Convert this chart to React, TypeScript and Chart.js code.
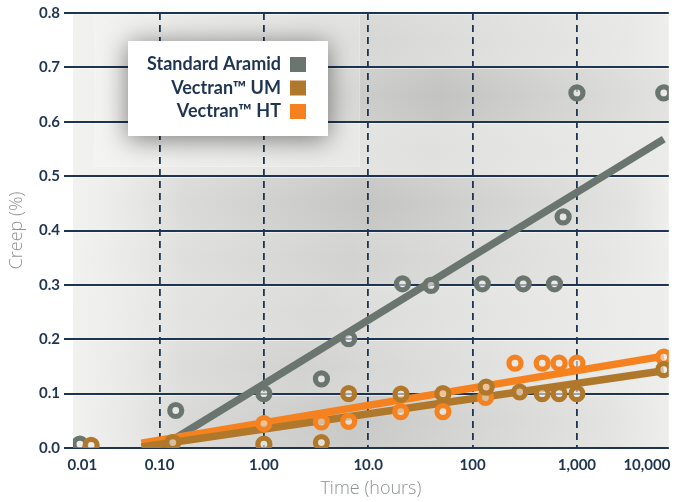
import { useEffect, useRef } from 'react';
import { Chart, registerables } from 'chart.js';

Chart.register(...registerables);

// Time axis (hours, log scale): tick positions and their printed labels
const tickValues = [0.01824, 0.1, 1, 10, 100, 1000, 4690];
const tickLabels = ['0.01', '0.10', '1.00', '10.0', '100', '1,000', '10,000'];
const xMin = 0.014812;
const xMax = 7600;

// Creep axis (%)
const yMin = 0;
const yMax = 0.8;
const yStep = 0.1;

const seriesNames = ['Standard Aramid', 'Vectran™ UM', 'Vectran™ HT'];
const seriesColors = ['#6b7570', '#b0782b', '#f5821f'];

// Measured creep, Standard Aramid
const aramidHours = [0.01725, 0.143, 1.0, 3.56, 6.5, 21.3, 40, 124, 306, 610, 738, 1000, 6800];
const aramidCreep = [0.007, 0.069, 0.1, 0.127, 0.201, 0.302, 0.299, 0.302, 0.302, 0.302, 0.425, 0.653, 0.653];

// Measured creep, Vectran UM
const umHours = [0.0221, 0.134, 1.0, 3.56, 6.5, 20.6, 52, 135, 283, 465, 675, 1000, 6800];
const umCreep = [0.005, 0.01, 0.007, 0.01, 0.1, 0.099, 0.1, 0.112, 0.103, 0.1, 0.1, 0.1, 0.144];

// Measured creep, Vectran HT
const htHours = [1.0, 3.56, 6.5, 20.5, 52, 133, 255, 465, 675, 1000, 6800];
const htCreep = [0.045, 0.048, 0.049, 0.067, 0.067, 0.093, 0.156, 0.156, 0.156, 0.156, 0.167];

// Log-linear trend lines (end points)
const aramidTrendHours = [0.1, 6800];
const aramidTrendCreep = [0.0, 0.568];
const umTrendHours = [0.067, 6800];
const umTrendCreep = [0.002, 0.142];
const htTrendHours = [0.067, 6800];
const htTrendCreep = [0.009, 0.169];

const NAVY = '#1d3452';
const TITLE_GRAY = '#8e9392';

const toPoints = (xs: number[], ys: number[]) => xs.map((x, i) => ({ x, y: ys[i] }));

const backgroundPlugin = {
  id: 'panelBackground',
  beforeDraw(chart: any) {
    const { ctx, chartArea } = chart;
    const { left, right, top, bottom } = chartArea;
    const w = right - left;
    const yScale = chart.scales.y;
    ctx.save();
    ctx.fillStyle = '#ffffff';
    ctx.fillRect(0, 0, chart.width, chart.height);

    // shading of each 0.1 band: [centre x, darkness]
    const bandShade: [number, number][] = [
      [350, 0.8],
      [300, 0.6],
      [320, 0.42],
      [350, 0.6],
      [370, 0.85],
      [430, 0.3],
      [440, 0.9],
      [370, 0.5],
    ];
    const light = [239, 239, 237];
    const dark = [190, 191, 188];
    const mix = (t: number) =>
      `rgb(${light.map((c, k) => Math.round(c + (dark[k] - c) * t)).join(',')})`;
    const clamp = (v: number) => Math.min(1, Math.max(0, v));
    bandShade.forEach(([cx, d], i) => {
      const yb = yScale.getPixelForValue(i * yStep);
      const yt = yScale.getPixelForValue((i + 1) * yStep);
      const g = ctx.createLinearGradient(left, 0, right, 0);
      const c = (cx - left) / w;
      g.addColorStop(0, mix(0.05));
      g.addColorStop(clamp(c - 260 / w), mix(d * 0.3));
      g.addColorStop(clamp(c), mix(d));
      g.addColorStop(clamp(c + 260 / w), mix(d * 0.3));
      g.addColorStop(1, mix(0.03));
      ctx.fillStyle = g;
      ctx.fillRect(left, yt, w, yb - yt);
      const v = ctx.createLinearGradient(0, yt, 0, yb);
      v.addColorStop(0, 'rgba(240,240,238,0.12)');
      v.addColorStop(0.5, 'rgba(240,240,238,0)');
      v.addColorStop(1, 'rgba(240,240,238,0.08)');
      ctx.fillStyle = v;
      ctx.fillRect(left, yt, w, yb - yt);
    });

    // light strip along the left edge
    const lg = ctx.createLinearGradient(left, 0, left + 110, 0);
    lg.addColorStop(0, 'rgba(242,242,240,0.9)');
    lg.addColorStop(1, 'rgba(242,242,240,0)');
    ctx.fillStyle = lg;
    ctx.fillRect(left, top, 110, bottom - top);

    // soft glow behind the legend
    ctx.fillStyle = 'rgba(255,255,255,0.22)';
    ctx.fillRect(94, top, 266, 154);
    ctx.strokeStyle = 'rgba(255,255,255,0.2)';
    ctx.lineWidth = 1;
    ctx.strokeRect(94.5, top + 0.5, 265, 153);

    // thin highlight under each gridline
    ctx.strokeStyle = 'rgba(255,255,255,0.5)';
    ctx.lineWidth = 1;
    for (let v = yMin; v <= yMax + 1e-9; v += yStep) {
      const y = Math.round(yScale.getPixelForValue(v)) + 1.5;
      if (y > bottom) continue;
      ctx.beginPath();
      ctx.moveTo(left, y);
      ctx.lineTo(right, y);
      ctx.stroke();
    }
    ctx.restore();
  },
};

const legendPlugin = {
  id: 'boxLegend',
  afterDraw(chart: any) {
    const { ctx } = chart;
    ctx.save();
    ctx.shadowColor = 'rgba(0,0,0,0.5)';
    ctx.shadowBlur = 24;
    ctx.shadowOffsetY = 3;
    ctx.fillStyle = '#ffffff';
    ctx.fillRect(128, 41, 200, 95);
    ctx.shadowColor = 'transparent';
    ctx.shadowBlur = 0;
    ctx.font = 'bold 18px Lato, sans-serif';
    ctx.textAlign = 'right';
    ctx.textBaseline = 'middle';
    seriesNames.forEach((name, i) => {
      const cy = 64.5 + i * 23.5;
      ctx.fillStyle = NAVY;
      ctx.fillText(name, 281, cy);
      ctx.fillStyle = seriesColors[i];
      ctx.fillRect(290, cy - 7.5, 16, 15);
    });
    ctx.restore();
  },
};

export default function App() {
  const canvasRef = useRef<HTMLCanvasElement | null>(null);

  useEffect(() => {
    const canvas = canvasRef.current;
    if (!canvas) return;

    const ring = (color: string, order: number, label: string, xs: number[], ys: number[]) => ({
      label,
      data: toPoints(xs, ys),
      showLine: false,
      pointStyle: 'circle',
      pointRadius: 6,
      pointBorderWidth: 5.2,
      pointBorderColor: color,
      pointBackgroundColor: 'rgba(236,236,234,0.6)',
      borderColor: color,
      order,
    });
    const trend = (color: string, order: number, label: string, xs: number[], ys: number[]) => ({
      label,
      data: toPoints(xs, ys),
      showLine: true,
      borderColor: color,
      borderWidth: 7.5,
      borderCapStyle: 'butt',
      pointRadius: 0,
      fill: false,
      order,
    });

    const chart = new Chart(canvas, {
      type: 'scatter',
      data: {
        datasets: [
          trend(seriesColors[0], 6, seriesNames[0] + ' trend', aramidTrendHours, aramidTrendCreep),
          trend(seriesColors[2], 5, seriesNames[2] + ' trend', htTrendHours, htTrendCreep),
          trend(seriesColors[1], 4, seriesNames[1] + ' trend', umTrendHours, umTrendCreep),
          ring(seriesColors[0], 3, seriesNames[0], aramidHours, aramidCreep),
          ring(seriesColors[2], 2, seriesNames[2], htHours, htCreep),
          ring(seriesColors[1], 1, seriesNames[1], umHours, umCreep),
        ] as any,
      },
      options: {
        animation: false,
        responsive: false,
        maintainAspectRatio: false,
        layout: { padding: { top: 11, right: 8, left: 0, bottom: 0 } },
        plugins: {
          legend: { display: false },
          tooltip: { enabled: false },
        },
        scales: {
          x: {
            type: 'logarithmic',
            min: xMin,
            max: xMax,
            afterBuildTicks: (scale: any) => {
              scale.ticks = tickValues.map((value) => ({ value }));
            },
            afterFit: (scale: any) => {
              scale.height = 54;
            },
            ticks: {
              autoSkip: false,
              maxRotation: 0,
              padding: 8,
              color: NAVY,
              font: { family: 'Lato', size: 15, weight: 'bold' },
              callback: (_v: any, i: number) => tickLabels[i],
            },
            grid: {
              drawTicks: false,
              lineWidth: 1.8,
              color: (ctx: any) =>
                ctx.index === 0 || ctx.index === tickValues.length - 1 ? 'rgba(0,0,0,0)' : NAVY,
            },
            border: { display: false, dash: [7, 5] },
            title: {
              display: true,
              text: 'Time (hours)',
              color: TITLE_GRAY,
              font: { family: 'Open Sans', size: 18, weight: '300' },
              padding: { top: 0, bottom: 2 },
            },
          },
          y: {
            type: 'linear',
            min: yMin,
            max: yMax,
            afterFit: (scale: any) => {
              scale.width = 73;
            },
            ticks: {
              stepSize: yStep,
              padding: 4,
              color: NAVY,
              font: { family: 'Lato', size: 15, weight: 'bold' },
              callback: (v: any) => Number(v).toFixed(1),
            },
            grid: {
              color: NAVY,
              lineWidth: 2,
              drawTicks: true,
              tickLength: 9,
              tickColor: NAVY,
              tickWidth: 2,
            },
            border: { display: false },
            title: {
              display: true,
              text: 'Creep (%)',
              color: TITLE_GRAY,
              font: { family: 'Open Sans', size: 18, weight: '300' },
              padding: { top: 6, bottom: 0 },
            },
          },
        },
      } as any,
      plugins: [backgroundPlugin, legendPlugin],
    });

    return () => chart.destroy();
  }, []);

  return (
    <div style={{ position: 'absolute', left: 0, top: 0, width: 680, height: 502, background: '#ffffff' }}>
      <canvas ref={canvasRef} width={680} height={502} style={{ display: 'block' }} />
    </div>
  );
}
